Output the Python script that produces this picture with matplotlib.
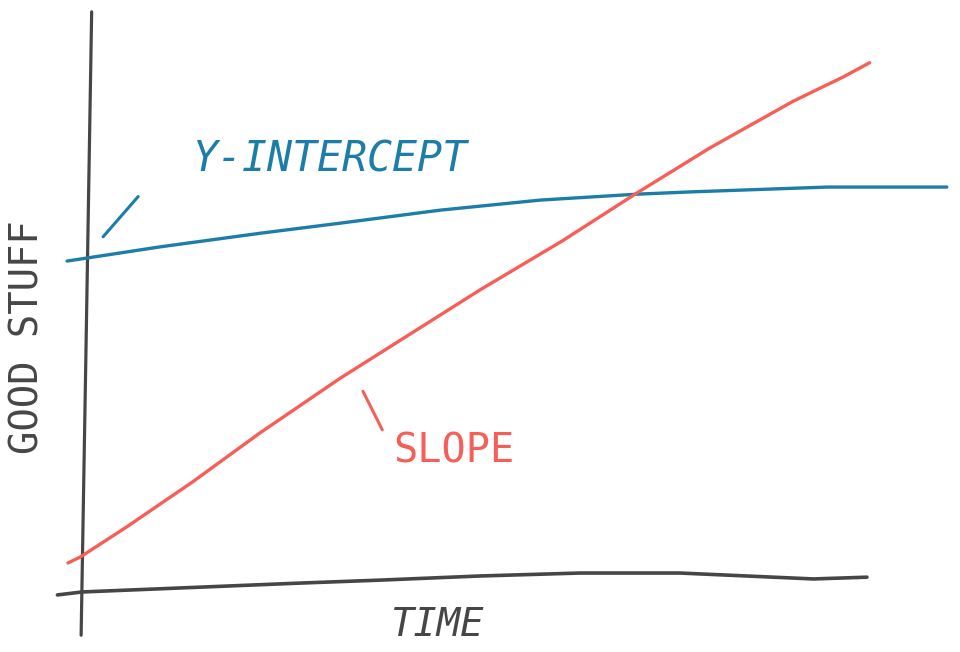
import numpy as np
import matplotlib
matplotlib.use("Agg")
from matplotlib import pyplot as plt

# hand sketched curves, time vs good stuff
time_blue = [-0.17, 0.89, 2.03, 2.94, 4.08, 5.22, 6.32, 6.96, 8.49, 9.85]
stuff_blue = [5.59, 5.83, 6.06, 6.23, 6.45, 6.62, 6.72, 6.76, 6.84, 6.84]

time_red = [-0.16, -0.02, 0.51, 1.26, 2.03, 2.94, 4.53, 5.47, 6.32, 7.15, 8.10, 8.67, 8.97]
stuff_red = [0.49, 0.59, 1.10, 1.86, 2.69, 3.61, 5.10, 5.93, 6.74, 7.50, 8.29, 8.70, 8.94]

# the hand drawn axes
axis_x_t = [-0.28, 0.0, 2.48, 3.39, 4.53, 5.67, 6.81, 7.57, 8.33, 8.94]
axis_x_s = [-0.05, 0.0, 0.15, 0.20, 0.27, 0.32, 0.32, 0.27, 0.22, 0.25]
axis_y_t = [0.11, 0.05, -0.01]
axis_y_s = [9.80, 4.5, -0.73]

blue = '#1c7ea8'
red = '#f65f58'
grey = '#464646'
hand = 'DejaVu Sans Mono'

fig = plt.figure(figsize=(9.6, 6.52), dpi=100)
ax = fig.add_axes([0, 0, 1, 1])
ax.set_xlim(-0.934, 10)
ax.set_ylim(-1.014, 10)
ax.axis('off')

ax.plot(axis_y_t, axis_y_s, color=grey, linewidth=2.3, solid_capstyle='round')
ax.plot(axis_x_t, axis_x_s, color=grey, linewidth=2.6, solid_capstyle='round',
        solid_joinstyle='round')

ax.plot(time_blue, stuff_blue, color=blue, linewidth=2.4, solid_capstyle='round',
        solid_joinstyle='round')
ax.plot(time_red, stuff_red, color=red, linewidth=2.4, solid_capstyle='round',
        solid_joinstyle='round')

# little marker strokes pointing at the lines
ax.annotate('', xy=(0.24, 6.0), xytext=(0.64, 6.68),
            arrowprops=dict(arrowstyle='-', color=blue, lw=2.2, shrinkA=0, shrinkB=0))
ax.annotate('', xy=(3.2, 3.39), xytext=(3.42, 2.74),
            arrowprops=dict(arrowstyle='-', color=red, lw=2.2, shrinkA=0, shrinkB=0))

ax.text(2.82, 7.30, 'Y-INTERCEPT', color=blue, fontsize=30, style='italic',
        family=hand, ha='center', va='center')
ax.text(4.23, 2.37, 'SLOPE', color=red, fontsize=29, family=hand,
        ha='center', va='center')
ax.text(4.05, -0.56, 'TIME', color=grey, fontsize=28, style='italic',
        family=hand, ha='center', va='center')
ax.text(-0.62, 4.3, 'GOOD STUFF', color=grey, fontsize=28, rotation=90,
        family=hand, ha='center', va='center')

fig.savefig('out.png', dpi=100)
